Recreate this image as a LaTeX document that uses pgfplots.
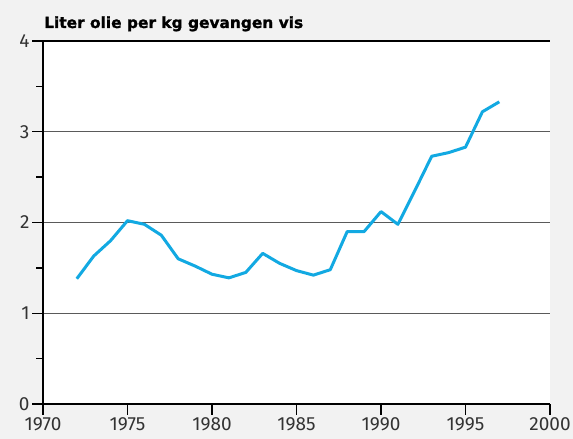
\documentclass[border=0pt]{standalone}
\usepackage{fontspec}
\setmainfont{Fira Sans}
\newfontfamily\titlefont{DejaVu Sans}[BoldFont={DejaVu Sans Bold}, BoldFeatures={FakeBold=1.2}]
\usepackage{pgfplots}
\pgfplotsset{compat=1.18}
\definecolor{bgcol}{HTML}{F2F2F2}
\definecolor{linecol}{HTML}{12A9E2}
\definecolor{gridcol}{HTML}{5A5A5A}
\definecolor{labcol}{HTML}{333333}

\begin{document}
\begin{tikzpicture}[x=1pt,y=1pt]
\fill[bgcol] (-43,-35) rectangle (530,404);
\useasboundingbox (-43,-35) rectangle (530,404);
\begin{axis}[
  at={(0,0)}, anchor=south west,
  scale only axis,
  width=507pt, height=363pt,
  xmin=1970, xmax=2000,
  ymin=0, ymax=4,
  axis lines*=left,
  axis line style={line width=1.4pt, black, -},
  axis background/.style={fill=white},
  xtick={1970,1975,...,2000},
  ytick={0,1,2,3,4},
  minor ytick={0.5,1.5,2.5,3.5},
  xticklabel style={/pgf/number format/1000 sep={}, yshift=1pt, font=\fontsize{19}{19}\selectfont, text=labcol},
  yticklabel style={xshift=1pt, font=\fontsize{19}{19}\selectfont, text=labcol},
  /pgf/number format/assume math mode=true,
  tick align=outside,
  major tick length=11pt,
  minor tick length=7pt,
  tick style={line width=1.4pt, black},
  ymajorgrids,
  grid style={line width=1.2pt, gridcol},
  clip=false,
]
\addplot[line width=3pt, color=linecol, line join=round] coordinates {
  (1972,1.38) (1973,1.63) (1974,1.80) (1975,2.02) (1976,1.98)
  (1977,1.86) (1978,1.60) (1979,1.52) (1980,1.43) (1981,1.39)
  (1982,1.45) (1983,1.66) (1984,1.55) (1985,1.47) (1986,1.42)
  (1987,1.48) (1988,1.90) (1989,1.90) (1990,2.12) (1991,1.98)
  (1992,2.35) (1993,2.73) (1994,2.77) (1995,2.83) (1996,3.22)
  (1997,3.33)
};
\draw[line width=1.4pt, black] (axis cs:1970,4) -- (axis cs:2000,4);
\end{axis}
\node[anchor=base west, inner sep=0pt, font=\titlefont\bfseries\fontsize{15.4}{15.4}\selectfont] at (1,376) {Liter olie per kg gevangen vis};
\end{tikzpicture}
\end{document}
